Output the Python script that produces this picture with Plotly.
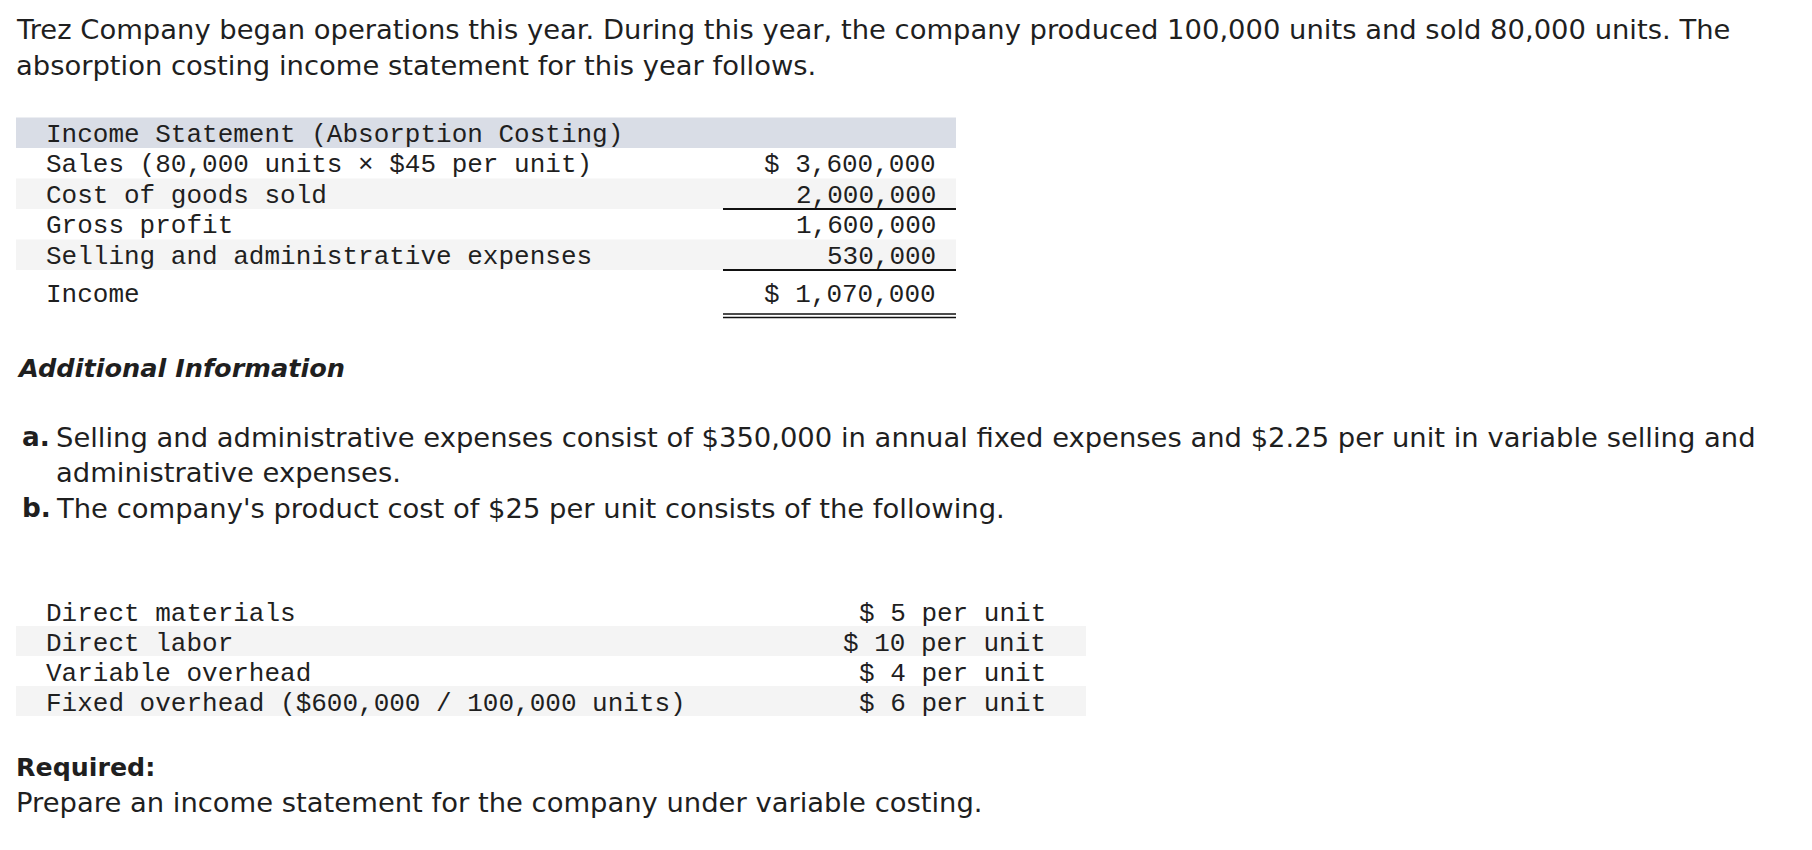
import plotly.graph_objects as go

W, H = 1812, 850

# ---------------- data ----------------
intro_lines = [
    "Trez Company began operations this year. During this year, the company produced 100,000 units and sold 80,000 units. The",
    "absorption costing income statement for this year follows.",
]
is_title = "Income Statement (Absorption Costing)"
is_labels = [
    "Sales (80,000 units × $45 per unit)",
    "Cost of goods sold",
    "Gross profit",
    "Selling and administrative expenses",
    "Income",
]
is_values = ["$ 3,600,000", "2,000,000", "1,600,000", "530,000", "$ 1,070,000"]
is_underline = ["none", "single", "none", "single", "double"]

add_info_title = "Additional Information"
info_markers = ["a.", "b."]
info_lines = [
    ["Selling and administrative expenses consist of $350,000 in annual fixed expenses and $2.25 per unit in variable selling and",
     "administrative expenses."],
    ["The company's product cost of $25 per unit consists of the following."],
]
cost_labels = [
    "Direct materials",
    "Direct labor",
    "Variable overhead",
    "Fixed overhead ($600,000 / 100,000 units)",
]
cost_values = ["$ 5 per unit", "$ 10 per unit", "$ 4 per unit", "$ 6 per unit"]
required_title = "Required:"
required_text = "Prepare an income statement for the company under variable costing."

# ---------------- styles ----------------
SANS = "DejaVu Sans"
MONO = "Liberation Mono"
TXT = "#1f1f1f"
SANS_SIZE = 27.4
BOLD_SIZE = 25.3
MONO_SIZE = 26
HEAD_BG = "#d9dde6"
ALT_BG = "#f4f4f4"

fig = go.Figure()
ann = []
shapes = []


def text(x, y, s, font=SANS, size=SANS_SIZE, anchor="left", color=TXT):
    ann.append(dict(x=x, y=y, xref="x", yref="y", text=s, showarrow=False,
                    xanchor=anchor, yanchor="middle", align=anchor,
                    borderpad=0, borderwidth=0,
                    font=dict(family=font, size=size, color=color)))


def rect(x0, y0, x1, y1, color):
    shapes.append(dict(type="rect", xref="x", yref="y", x0=x0, x1=x1, y0=y0, y1=y1,
                       fillcolor=color, line=dict(width=0), layer="below"))


def hline(x0, x1, y, w=2, color="#111111"):
    shapes.append(dict(type="line", xref="x", yref="y", x0=x0, x1=x1, y0=y, y1=y,
                       line=dict(color=color, width=w)))


# intro
LEFT = 16
LINE_GAP = 36
for i, s in enumerate(intro_lines):
    text(LEFT, 29 + i * LINE_GAP, s)

# absorption income statement table
T_LEFT, T_RIGHT = 16, 956
VAL_RIGHT = 936
LABEL_X = 46
ROW_H = 30.5
TXT_OFF = 2
top = 117.5
rect(T_LEFT, top, T_RIGHT, top + ROW_H, HEAD_BG)
text(LABEL_X, top + ROW_H / 2 + TXT_OFF, is_title, font=MONO, size=MONO_SIZE)
for i, (lab, val) in enumerate(zip(is_labels, is_values)):
    y0 = top + ROW_H * (i + 1)
    y1 = y0 + ROW_H
    if i % 2 == 1:
        rect(T_LEFT, y0, T_RIGHT, y1, ALT_BG)
    cy = (y0 + y1) / 2 + TXT_OFF
    if is_underline[i] == "double":
        cy += 8
    text(LABEL_X, cy, lab, font=MONO, size=MONO_SIZE)
    text(VAL_RIGHT, cy, val, font=MONO, size=MONO_SIZE, anchor="right")
    if is_underline[i] == "single":
        hline(723, T_RIGHT, y1, w=2)
    elif is_underline[i] == "double":
        hline(723, T_RIGHT, 314, w=1.5)
        hline(723, T_RIGHT, 317.5, w=1.5)

# additional information
text(LEFT + 1, 368, "<b><i>" + add_info_title + "</i></b>", size=BOLD_SIZE + 0.3)
info_y = [437, 508]
for mk, lines, y in zip(info_markers, info_lines, info_y):
    text(22, y, "<b>" + mk + "</b>", size=BOLD_SIZE + 1)
    for j, s in enumerate(lines):
        text(56, y + j * 35, s)

# product cost table
C_RIGHT = 1086
C_VAL_RIGHT = 1046
c_top = 596
C_ROW_H = 30
for i, (lab, val) in enumerate(zip(cost_labels, cost_values)):
    y0 = c_top + C_ROW_H * i
    y1 = y0 + C_ROW_H
    if i % 2 == 1:
        rect(T_LEFT, y0, C_RIGHT, y1, ALT_BG)
    cy = (y0 + y1) / 2 + TXT_OFF + 1
    text(LABEL_X, cy, lab, font=MONO, size=MONO_SIZE)
    text(C_VAL_RIGHT, cy, val, font=MONO, size=MONO_SIZE, anchor="right")

# required
text(LEFT, 767, "<b>" + required_title + "</b>", size=BOLD_SIZE)
text(LEFT, 802, required_text)

fig.update_layout(
    width=W, height=H, autosize=False,
    margin=dict(l=0, r=0, t=0, b=0, pad=0),
    paper_bgcolor="white", plot_bgcolor="white",
    xaxis=dict(range=[0, W], visible=False, fixedrange=True),
    yaxis=dict(range=[H, 0], visible=False, fixedrange=True),
    annotations=ann, shapes=shapes, showlegend=False,
)

fig.write_html("out.html", config={"displayModeBar": False},
               post_script="document.body.style.margin='0';document.body.style.overflow='hidden';")
